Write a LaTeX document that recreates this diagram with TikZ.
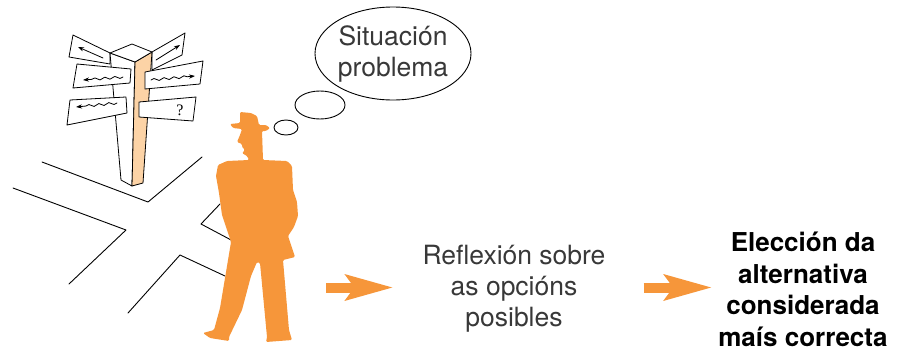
\documentclass[tikz,border=0pt]{standalone}
\usepackage{fontspec}
\setmainfont{TeX Gyre Heros}
\newfontfamily\signfont{Liberation Serif}
\usetikzlibrary{arrows.meta,shapes.geometric,decorations.pathmorphing}
\definecolor{manorange}{HTML}{F6963A}
\definecolor{postface}{HTML}{FCD3A6}
\definecolor{textgray}{HTML}{383838}

\begin{document}
\begin{tikzpicture}[x=1pt,y=-1pt,line join=round,line cap=round,
  road/.style={line width=0.9pt},
  sign/.style={draw,fill=white,line width=0.8pt},
  signarrow/.style={-{Stealth[length=6pt,width=4.2pt]},line width=0.8pt},
  wavy/.style={signarrow,decorate,decoration={snake,amplitude=1.2pt,segment length=10pt,post length=6pt}},
  bubble/.style={draw,ellipse,line width=0.9pt,inner sep=0pt},
  flow/.style={manorange,line width=10pt,line cap=butt,
    -{Stealth[length=48pt,width=27pt,inset=10pt,line width=0pt]}},
  caption/.style={align=center,inner sep=0pt,font=\fontsize{26.5}{31}\selectfont}]
\useasboundingbox (0,0) rectangle (897,351);

% crossroads
\draw[road] (42,162) -- (148,202) -- (202,157);
\draw[road] (13,188) -- (126,230) -- (69,284);
\draw[road] (128,313) -- (180,255) -- (225,276);
\draw[road] (220,204) -- (201,224) -- (233,241);

% signs behind the post
\draw[sign] (73,35) -- (110,53) -- (110,64) -- (69,57) -- cycle;
\draw[signarrow] (103,58) -- (78,47);
\draw[sign] (152,52) -- (185,33) -- (182,55) -- (152,70) -- cycle;
\draw[signarrow] (156,60) -- (180,45);

% post
\draw[line width=0.8pt,fill=white] (110,53) -- (135,62) -- (132,186) -- (121,180) -- cycle;
\draw[line width=0.8pt,fill=postface] (135,62) -- (152,52) -- (143,183) -- (132,186) -- cycle;
\draw[line width=0.8pt,fill=white] (110,53) -- (132,44) -- (152,52) -- (135,62) -- cycle;

% signs in front
\draw[sign] (77,64) -- (131,69) -- (130,83) -- (73,88) -- cycle;
\draw[wavy] (123,77) -- (83,80);
\draw[sign] (70,100) -- (126,97) -- (127,113) -- (67,125) -- cycle;
\draw[wavy] (117,103) -- (76,107);
\draw[sign] (145,72) -- (203,61) -- (200,84) -- (145,89) -- cycle;
\draw[wavy] (151,80) -- (195,76);
\draw[sign] (139,102) -- (196,97) -- (193,121) -- (139,117) -- cycle;
\node[font=\signfont\fontsize{16}{16}\selectfont] (query) at (180,110) {?};

% walking man
\fill[manorange,rounded corners=1.2pt] (240,112) -- (251,113) -- (257,116) -- (259,125)
  -- (266,125) -- (270,128) -- (266,131) -- (262,131) -- (263,160) -- (287,161)
  -- (292,166) -- (293,190) -- (297,202) -- (298,216) -- (294,227) -- (288,236)
  -- (295,257) -- (283,260) -- (289,330) -- (292,340) -- (266,342) -- (267,337)
  -- (260,263) -- (257,262) -- (251,276) -- (242,310) -- (229,337) -- (229,341)
  -- (210,338) -- (203,333) -- (214,330) -- (220,308) -- (226,272) -- (231,242)
  -- (222,215) -- (219,193) -- (216,176) -- (218,165) -- (227,161) -- (249,160)
  -- (247,156) -- (242,153) -- (245,150) -- (242,147) -- (242,144) -- (237,142)
  -- (240,135) -- (242,129) -- (233,128) -- (230,124) -- (240,123) -- cycle;

% thought bubbles
\draw[line width=0.9pt] (286,127.5) ellipse [x radius=12, y radius=7.5];
\draw[line width=0.9pt] (320,105) ellipse [x radius=25, y radius=14];
\node[bubble,minimum width=152pt,minimum height=93pt,text=textgray,
  font=\fontsize{26.5}{31}\selectfont,align=center] (problema) at (393,53.5)
  {Situación\\problema};

% steps
\coordinate (walker) at (326,287.5);
\node[caption,text=textgray] (reflexion) at (514,288.5)
  {Reflexión sobre\\as opcións\\posibles};
\node[caption,text=black,font=\fontsize{26}{31.5}\selectfont\bfseries] (eleccion) at (803,289.5)
  {Elección da\\alternativa\\considerada\\maís correcta};
\draw[flow,shorten >=30pt] (walker) -- (reflexion.west |- walker);
\draw[flow,shorten <=38pt,shorten >=7pt] (reflexion.east |- walker) -- (eleccion.west |- walker);
\end{tikzpicture}
\end{document}
